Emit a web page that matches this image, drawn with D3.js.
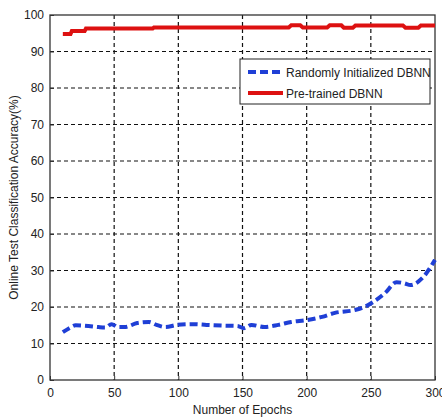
<!DOCTYPE html>
<html>
<head>
<meta charset="utf-8">
<script src="https://cdn.jsdelivr.net/npm/d3@7"></script>
<style>
  body { margin: 0; background: #fff; }
  svg text { font-family: "Liberation Sans Narrow", "Arial Narrow", "Liberation Sans", sans-serif; fill: #222; }
</style>
</head>
<body>
<div id="chart"></div>
<script>
const randEpochs = [10, 15, 20, 30, 38, 43, 48, 53, 58, 68, 77, 83, 90, 99, 112, 122, 135, 146, 151, 157, 167, 178, 188, 200, 212, 222, 238, 245, 252, 261, 270, 276, 281, 290, 300];
const randAcc = [13.1, 14.2, 15.0, 14.8, 14.5, 14.4, 15.3, 14.5, 14.5, 15.6, 15.9, 15.1, 14.5, 15.1, 15.3, 15.1, 14.9, 14.8, 14.2, 15.1, 14.5, 15.1, 15.9, 16.4, 17.3, 18.4, 19.2, 20.0, 21.4, 23.8, 26.8, 26.5, 26.0, 27.9, 32.9];

const preEpochs = [10, 16, 17, 27, 28, 80, 81, 186, 188, 195, 197, 216, 218, 227, 229, 236, 238, 275, 277, 287, 289, 300];
const preAcc = [94.8, 94.8, 95.6, 95.6, 96.3, 96.3, 96.6, 96.6, 97.2, 97.2, 96.6, 96.6, 97.2, 97.2, 96.5, 96.5, 97.1, 97.1, 96.5, 96.5, 97.1, 97.1];

const xTicks = [0, 50, 100, 150, 200, 250, 300];
const yTicks = [0, 10, 20, 30, 40, 50, 60, 70, 80, 90, 100];
const seriesNames = ['Randomly Initialized DBNN', 'Pre-trained DBNN'];
const seriesColors = ['#1f3fd6', '#dd1111'];

const W = 442, H = 419;
const margin = { top: 15, right: 7, bottom: 39, left: 50 };
const width = W - margin.left - margin.right;
const height = H - margin.top - margin.bottom;

const svg = d3.select('#chart').append('svg')
    .attr('width', W).attr('height', H);
const g = svg.append('g')
    .attr('transform', 'translate(' + margin.left + ',' + margin.top + ')');

const x = d3.scaleLinear().domain([0, 300]).range([0, width]);
const y = d3.scaleLinear().domain([0, 100]).range([height, 0]);

// grid
g.append('g').selectAll('line').data(xTicks.slice(1, -1)).enter().append('line')
    .attr('x1', d => x(d)).attr('x2', d => x(d))
    .attr('y1', 0).attr('y2', height)
    .attr('stroke', '#111').attr('stroke-width', 1.2).attr('stroke-dasharray', '4,3');
g.append('g').selectAll('line').data(yTicks.slice(1, -1)).enter().append('line')
    .attr('x1', 0).attr('x2', width)
    .attr('y1', d => y(d)).attr('y2', d => y(d))
    .attr('stroke', '#111').attr('stroke-width', 1.2).attr('stroke-dasharray', '4,3');

// axes
const xAxis = d3.axisBottom(x).tickValues(xTicks).tickSize(-4).tickPadding(8);
const yAxis = d3.axisLeft(y).tickValues(yTicks).tickSize(-4).tickPadding(6);

const gx = g.append('g').attr('transform', 'translate(0,' + height + ')').call(xAxis);
const gy = g.append('g').call(yAxis);
[gx, gy].forEach(function (a) {
    a.select('.domain').remove();
    a.selectAll('line').attr('stroke', '#333');
    a.selectAll('text').style('font-size', '12px').attr('fill', '#222');
});

// frame
g.append('rect').attr('width', width).attr('height', height)
    .attr('fill', 'none').attr('stroke', '#333').attr('stroke-width', 1.3);

// lines
const line = d3.line().x(d => x(d[0])).y(d => y(d[1]));
g.append('path')
    .datum(d3.zip(randEpochs, randAcc))
    .attr('d', line.curve(d3.curveMonotoneX))
    .attr('fill', 'none').attr('stroke', seriesColors[0])
    .attr('stroke-width', 4).attr('stroke-dasharray', '8,4');
g.append('path')
    .datum(d3.zip(preEpochs, preAcc))
    .attr('d', d3.line().x(d => x(d[0])).y(d => y(d[1])))
    .attr('fill', 'none').attr('stroke', seriesColors[1])
    .attr('stroke-width', 4);

// legend
const lg = svg.append('g').attr('transform', 'translate(240,59)');
lg.append('rect').attr('width', 190).attr('height', 45)
    .attr('fill', '#fff').attr('stroke', '#222').attr('stroke-width', 1);
seriesNames.forEach(function (name, i) {
    const yy = 13 + i * 21;
    lg.append('line').attr('x1', 8).attr('x2', 43).attr('y1', yy).attr('y2', yy)
        .attr('stroke', seriesColors[i]).attr('stroke-width', 4)
        .attr('stroke-dasharray', i === 0 ? '8,4' : null);
    lg.append('text').attr('x', 46).attr('y', yy + 4.5)
        .style('font-size', '12px').text(name);
});

// axis titles
svg.append('text').attr('x', margin.left + width / 2).attr('y', 414)
    .attr('text-anchor', 'middle').style('font-size', '12px').text('Number of Epochs');
svg.append('text')
    .attr('transform', 'translate(18,' + (margin.top + height / 2) + ') rotate(-90)')
    .attr('text-anchor', 'middle').style('font-size', '12px')
    .text('Online Test Classification Accuracy(%)');
</script>
</body>
</html>
